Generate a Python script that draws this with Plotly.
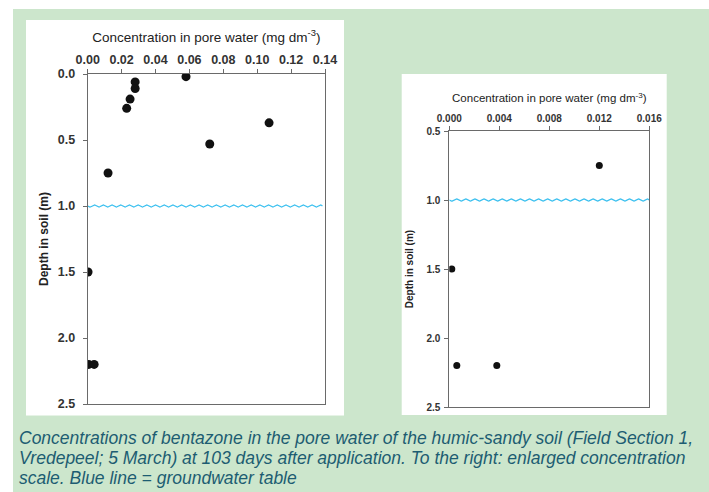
import numpy as np
import plotly.graph_objects as go

# ---- data ----
CONC = [0.058, 0.028, 0.028, 0.025, 0.023, 0.107, 0.072, 0.012, 0.0002, 0.0006, 0.0038]  # mg dm-3
DEPTH = [0.02, 0.06, 0.11, 0.19, 0.26, 0.37, 0.53, 0.75, 1.50, 2.20, 2.20]              # m
GROUNDWATER_DEPTH = 1.0
LEFT_XTICKS = [0.00, 0.02, 0.04, 0.06, 0.08, 0.10, 0.12, 0.14]
RIGHT_XTICKS = [0.000, 0.004, 0.008, 0.012, 0.016]
LEFT_YTICKS = [0.0, 0.5, 1.0, 1.5, 2.0, 2.5]
RIGHT_YTICKS = [0.5, 1.0, 1.5, 2.0, 2.5]
X_TITLE = "Concentration in pore water (mg dm<sup>-3</sup>)"
Y_TITLE = "Depth in soil (m)"
CAPTION_LINES = [
    "Concentrations of bentazone in the pore water of the humic-sandy soil (Field Section 1,",
    "Vredepeel; 5 March) at 103 days after application. To the right: enlarged concentration",
    "scale. Blue line = groundwater table",
]

W, H = 709, 492
GREEN = "#cce6cc"
AXIS_GREY = "#6a6a6a"
WAVE_BLUE = "#3cc0ef"
FONT = "Liberation Sans, Arial, sans-serif"


def px(x):
    return x / W


def py(y):
    return 1 - y / H


def wave(xmax, n_waves, amp):
    t = np.linspace(0, xmax, n_waves * 16 + 1)
    return t, GROUNDWATER_DEPTH + amp * np.sin(2 * np.pi * n_waves * t / xmax)


fig = go.Figure()

# left panel
fig.add_trace(go.Scatter(x=CONC, y=DEPTH, mode="markers", xaxis="x", yaxis="y",
                         marker=dict(size=9, color="#111111"), showlegend=False))
wx, wy = wave(0.1385, 27, 0.008)
fig.add_trace(go.Scatter(x=wx, y=wy, mode="lines", xaxis="x", yaxis="y",
                         line=dict(color=WAVE_BLUE, width=1.3), showlegend=False))

# right panel (enlarged scale)
fig.add_trace(go.Scatter(x=CONC, y=DEPTH, mode="markers", xaxis="x2", yaxis="y2",
                         marker=dict(size=7, color="#111111"), showlegend=False))
wx2, wy2 = wave(0.016, 22, 0.008)
fig.add_trace(go.Scatter(x=wx2, y=wy2, mode="lines", xaxis="x2", yaxis="y2",
                         line=dict(color=WAVE_BLUE, width=1.3), showlegend=False))

axis_common = dict(showgrid=False, zeroline=False, showline=True, linecolor=AXIS_GREY,
                   linewidth=1, mirror=True, ticks="outside", ticklen=4,
                   tickcolor=AXIS_GREY, automargin=False)

fig.update_layout(
    width=W, height=H,
    margin=dict(l=0, r=0, t=0, b=0),
    paper_bgcolor=GREEN, plot_bgcolor="white",
    font=dict(family=FONT, color="#222222"),
    xaxis=dict(domain=[px(87.7), px(325)], range=[0, 0.14], side="top", anchor="y",
               tickvals=LEFT_XTICKS, tickformat=".2f",
               tickfont=dict(size=12.5, weight=700, color="#333333"),
               title=dict(text=X_TITLE, font=dict(size=13.5, color="#222222"), standoff=7),
               **axis_common),
    yaxis=dict(domain=[py(404), py(74)], range=[2.5, 0], anchor="x",
               tickvals=LEFT_YTICKS, tickformat=".1f", ticklabelstandoff=5,
               tickfont=dict(size=12.5, weight=700, color="#333333"),
               title=dict(text=Y_TITLE, font=dict(size=12, weight=700, color="#222222"), standoff=6),
               **axis_common),
    xaxis2=dict(domain=[px(449.3), px(649.3)], range=[0, 0.016], side="top", anchor="y2",
                tickvals=RIGHT_XTICKS, tickformat=".3f",
                tickfont=dict(size=10, weight=600, color="#333333"),
                title=dict(text=X_TITLE, font=dict(size=11.5, color="#222222"), standoff=7),
                **axis_common),
    yaxis2=dict(domain=[py(407), py(131)], range=[2.5, 0.5], anchor="x2",
                tickvals=RIGHT_YTICKS, tickformat=".1f", ticklabelstandoff=2,
                tickfont=dict(size=10, weight=700, color="#333333"),
                title=dict(text=Y_TITLE, font=dict(size=10, weight=700, color="#222222"), standoff=10),
                **axis_common),
)

# page decoration: white border strips and white chart panels
shapes = [
    dict(type="rect", xref="paper", yref="paper", x0=0, x1=1, y0=py(9), y1=1,
         fillcolor="white", line_width=0, layer="below"),
    dict(type="rect", xref="paper", yref="paper", x0=0, x1=px(13), y0=0, y1=1,
         fillcolor="white", line_width=0, layer="below"),
    dict(type="rect", xref="paper", yref="paper", x0=px(26), x1=px(344), y0=py(415.5), y1=py(20),
         fillcolor="white", line_width=0, layer="below"),
    dict(type="rect", xref="paper", yref="paper", x0=px(401.7), x1=px(666.7), y0=py(415), y1=py(74),
         fillcolor="white", line_width=0, layer="below"),
]
fig.update_layout(shapes=shapes)

for i, line in enumerate(CAPTION_LINES):
    fig.add_annotation(text=line, xref="paper", yref="paper", x=px(17), y=py(438 + 20 * i),
                       xanchor="left", yanchor="middle", showarrow=False,
                       font=dict(family="Liberation Sans, Arial, sans-serif",
                                 size=17.5, style="italic", color="#1d5d72"))

fig.write_html("out.html", config={"displayModeBar": False},
               post_script="document.body.style.margin='0';")
